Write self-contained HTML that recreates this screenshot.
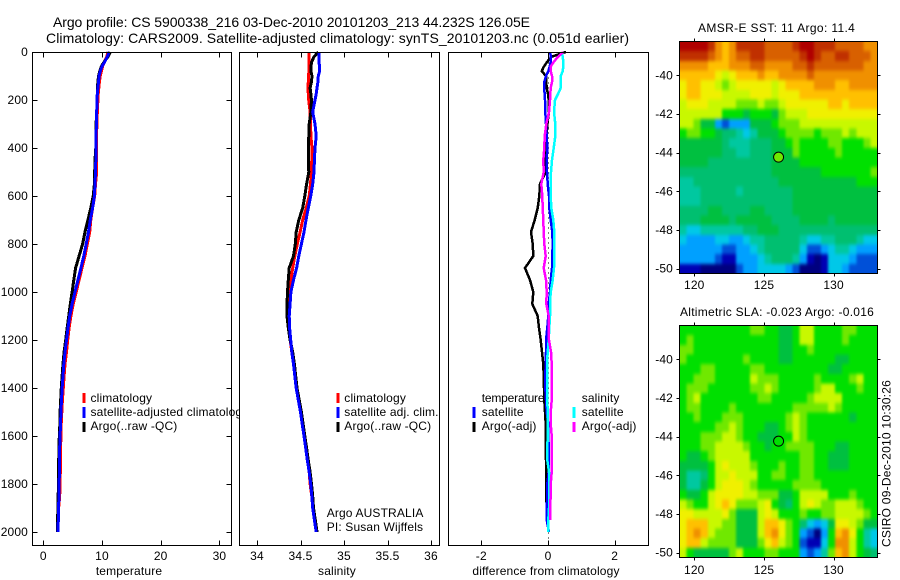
<!DOCTYPE html>
<html lang="en">
<head>
<meta charset="utf-8">
<title>Argo profile chart</title>
<style>
html,body{margin:0;padding:0;background:#fff;width:900px;height:580px;overflow:hidden}
svg{display:block}
text{font-family:"Liberation Sans",Arial,sans-serif;font-size:12px;fill:#000;letter-spacing:.15px}
.frame{fill:none;stroke:#000;stroke-width:1;shape-rendering:crispEdges}
.bg{fill:#fff}
.mk{stroke-width:3;shape-rendering:crispEdges}
</style>
</head>
<body>
<svg id="chart" xmlns="http://www.w3.org/2000/svg" width="900" height="580" viewBox="0 0 900 580">
  <defs>
    <filter id="soften" filterUnits="userSpaceOnUse" x="650" y="20" width="250" height="560" color-interpolation-filters="sRGB">
      <feGaussianBlur stdDeviation="1.4 1.8"/>
    </filter>
    <clipPath id="m1-clip"><rect x="679.5" y="41.5" width="198" height="232"/></clipPath>
    <clipPath id="m2-clip"><rect x="679.5" y="325.5" width="198" height="232"/></clipPath>
  </defs>
  <rect width="900" height="580" fill="#fff"/>
  <text x="53" y="27" style="font-size:14px;letter-spacing:0" textLength="477" lengthAdjust="spacing">Argo profile: CS 5900338_216 03-Dec-2010 20101203_213 44.232S 126.05E</text>
  <text x="46" y="43" style="font-size:14px;letter-spacing:0" textLength="583" lengthAdjust="spacing">Climatology: CARS2009. Satellite-adjusted climatology: synTS_20101203.nc (0.051d earlier)</text>

  <g id="p1">
    <rect class="bg" x="32.5" y="52.5" width="199" height="493"/>
  </g>
  <g>
    <line class="mk" x1="84" x2="84" y1="393" y2="403" stroke="#f00"/>
    <line class="mk" x1="84" x2="84" y1="407" y2="418" stroke="#00f"/>
    <line class="mk" x1="84" x2="84" y1="422" y2="432" stroke="#000"/>
    <text x="90.5" y="402">climatology</text>
    <text x="90.5" y="416">satellite-adjusted climatology</text>
    <text x="90.5" y="430">Argo(..raw -QC)</text>
  </g>
  <text x="129" y="575" text-anchor="middle">temperature</text>

  <g id="p2">
    <rect class="bg" x="239.5" y="52.5" width="200" height="493"/>
  </g>
  <g>
    <line class="mk" x1="338" x2="338" y1="393" y2="403" stroke="#f00"/>
    <line class="mk" x1="338" x2="338" y1="407" y2="418" stroke="#00f"/>
    <line class="mk" x1="338" x2="338" y1="422" y2="432" stroke="#000"/>
    <text x="344.3" y="402">climatology</text>
    <text x="344.3" y="416">satellite adj. clim.</text>
    <text x="344.3" y="430">Argo(..raw -QC)</text>
    <text x="326.7" y="517">Argo AUSTRALIA</text>
    <text x="326.7" y="531">PI: Susan Wijffels</text>
  </g>
  <text x="337" y="575" text-anchor="middle">salinity</text>

  <g id="p3">
    <rect class="bg" x="448.5" y="52.5" width="200" height="493"/>
  </g>
  <g>
    <text x="481.7" y="402" textLength="63" lengthAdjust="spacing">temperature</text>
    <line class="mk" x1="474" x2="474" y1="407" y2="418" stroke="#00f"/>
    <text x="481.7" y="416">satellite</text>
    <line class="mk" x1="474" x2="474" y1="422" y2="432" stroke="#000"/>
    <text x="481.7" y="430">Argo(-adj)</text>
    <text x="581.7" y="402">salinity</text>
    <line class="mk" x1="574" x2="574" y1="407" y2="418" stroke="#0ff"/>
    <text x="581.7" y="416">satellite</text>
    <line class="mk" x1="574" x2="574" y1="422" y2="432" stroke="#f0f"/>
    <text x="581.7" y="430">Argo(-adj)</text>
  </g>
  <text x="546" y="575" text-anchor="middle">difference from climatology</text>

  <g id="m1"></g>
  <text x="698" y="32" textLength="157" lengthAdjust="spacing">AMSR-E SST: 11 Argo: 11.4</text>
  <g id="m2"></g>
  <text x="680" y="316" textLength="194" lengthAdjust="spacing">Altimetric SLA: -0.023 Argo: -0.016</text>
  <text transform="translate(890.5,547) rotate(-90)" textLength="167" lengthAdjust="spacing">CSIRO 09-Dec-2010 10:30:26</text>
</svg>

<script>
const depths = [0,20,40,60,80,100,125,150,175,200,250,300,350,400,450,500,550,600,650,700,750,800,850,900,950,1000,1050,1100,1150,1200,1250,1300,1350,1400,1450,1500,1550,1600,1650,1700,1750,1800,1850,1900,1950,2000];

const tempClim = [11.0,10.8,10.4,10.1,9.9,9.7,9.55,9.45,9.35,9.3,9.2,9.15,9.05,9.05,9.1,9.1,8.9,8.75,8.4,8.1,7.9,7.5,7.1,6.6,6.1,5.6,5.1,4.7,4.4,4.15,3.95,3.7,3.55,3.4,3.25,3.15,3.05,3.0,2.95,2.9,2.9,2.85,2.8,2.6,2.55,2.5];
const tempArgo = [11.4,11.0,10.4,9.9,9.6,9.4,9.3,9.2,9.2,9.15,9.1,9.0,9.0,8.95,8.8,8.75,8.7,8.5,8.1,7.6,7.1,6.7,6.1,5.5,5.2,4.9,4.6,4.35,4.05,3.82,3.55,3.36,3.2,3.07,2.97,2.87,2.82,2.72,2.68,2.63,2.63,2.58,2.53,2.48,2.43,2.42];
const tempSat = [11.2,10.9,10.5,10.0,9.7,9.5,9.4,9.3,9.2,9.15,9.1,9.05,9.0,9.0,8.95,8.9,8.8,8.7,8.4,8.0,7.7,7.3,6.9,6.4,5.9,5.4,4.9,4.5,4.2,3.95,3.7,3.5,3.35,3.2,3.1,3.0,2.95,2.85,2.8,2.75,2.75,2.7,2.65,2.6,2.55,2.5];

const salClim = [34.60,34.60,34.60,34.60,34.595,34.594,34.59,34.586,34.59,34.594,34.61,34.615,34.62,34.632,34.63,34.625,34.615,34.6,34.565,34.525,34.495,34.463,34.435,34.41,34.39,34.37,34.365,34.36,34.365,34.38,34.40,34.42,34.44,34.455,34.475,34.50,34.52,34.54,34.56,34.58,34.6,34.61,34.63,34.64,34.66,34.68];
const salArgo = [34.705,34.655,34.63,34.62,34.62,34.632,34.625,34.61,34.62,34.625,34.62,34.60,34.595,34.59,34.59,34.595,34.57,34.55,34.525,34.48,34.45,34.44,34.42,34.37,34.36,34.35,34.345,34.345,34.36,34.38,34.41,34.43,34.445,34.46,34.485,34.51,34.53,34.55,34.57,34.588,34.61,34.627,34.64,34.65,34.67,34.69];
const salSat = [34.71,34.71,34.71,34.72,34.72,34.705,34.70,34.69,34.68,34.667,34.64,34.667,34.68,34.667,34.66,34.655,34.64,34.617,34.59,34.563,34.54,34.51,34.48,34.455,34.42,34.39,34.38,34.37,34.375,34.387,34.40,34.42,34.435,34.45,34.475,34.50,34.52,34.54,34.56,34.578,34.6,34.617,34.63,34.64,34.66,34.68];

const diffTempArgo = [.54,.1,-.02,-.12,-.19,-.06,-.05,-.04,0,.02,.03,-.02,-.04,-.05,-.07,-.07,-.24,-.26,-.31,-.40,-.51,-.46,-.44,-.69,-.54,-.44,-.47,-.31,-.27,-.22,-.18,-.14,-.13,-.12,-.11,-.09,-.07,-.07,-.07,-.06,-.06,-.05,-.05,-.04,-.04];
const diffTempSat = [.06,.09,.08,.05,.01,-.06,-.11,-.12,-.10,-.09,-.08,-.06,-.04,-.02,-.04,-.03,-.01,.03,.04,.08,.13,.14,.13,.12,.08,.06,.02,.01,-.02,-.06,-.06,-.07,-.08,-.08,-.06,-.04,.01,.01,.02,.03,.02,-.02,-.02,-.04,-.04,.03];
const diffSalSat = [.41,.44,.46,.46,.44,.38,.38,.38,.30,.21,.18,.22,.22,.17,.12,.09,.08,.08,.10,.16,.19,.19,.19,.18,.14,.08,.06,.06,.04,.02,-.01,-.03,-.03,-.03,-.02,-.01,-.01,-.01,-.02,-.02,.03,.03,.03,.03,.01,.01];
const diffSalArgo = [.46,.3,.18,.08,.08,.12,.12,.08,.07,.06,.03,-.05,-.1,-.11,-.14,-.13,-.2,-.17,-.16,-.14,-.13,-.11,-.07,-.13,-.06,-.04,-.05,.02,.02,.03,.09,.11,.11,.11,.11,.08,.08,.11,.11,.11,.11,.08,.08,.06,.06];

const depthTicks = [0,200,400,600,800,1000,1200,1400,1600,1800,2000];
const tempTicks = [0,10,20,30];
const salTicks = [34,34.5,35,35.5,36];
const diffTicks = [-2,0,2];
const lonTicks = [120,125,130];
const latTicks = [-40,-42,-44,-46,-48,-50];
const floatLon = 126.05;
const floatLat = -44.232;

const palette = ['#00007f','#0000b4','#0050d8','#00a0ff','#00c8e8','#00c8a0','#00bf70','#00c040','#00e000','#70e800','#c8f800','#f0f000','#ffc000','#f09000','#d86000','#c03000','#b00000'];

const sstGrid = [
[16,16,16,16,15,13,12,13,15,15,15,15,14,14,14,14,15,16,16,15,15,15,14,14,14,14,13,13],
[15,15,15,15,14,13,12,13,14,14,15,15,14,14,14,14,14,15,16,15,14,14,15,15,14,14,14,13],
[13,13,13,13,12,12,12,13,13,13,14,14,13,13,13,13,14,14,15,14,14,14,14,14,14,14,13,13],
[12,12,12,12,12,11,10,11,12,12,12,13,12,12,13,13,13,13,14,13,13,13,13,13,13,13,13,13],
[11,12,12,11,11,10,9,10,11,11,11,11,11,10,11,12,12,12,12,13,13,13,12,12,13,13,13,13],
[11,12,12,11,11,11,10,10,10,10,11,11,11,10,11,11,11,12,12,12,12,12,12,12,12,12,12,12],
[10,11,11,11,10,10,10,10,9,9,9,10,9,9,10,11,11,11,11,11,11,12,12,11,12,12,12,12],
[10,10,10,10,10,10,8,8,8,7,8,8,8,7,9,10,10,10,11,11,11,11,11,11,11,11,11,11],
[10,10,9,7,7,3,2,3,3,3,7,7,7,8,9,9,9,10,10,10,10,10,10,10,10,10,10,10],
[8,9,9,8,8,7,6,6,5,4,5,7,7,7,8,9,9,9,9,8,9,9,9,10,9,10,10,10],
[7,7,7,7,7,7,6,5,5,5,6,6,6,7,7,8,9,8,8,8,8,9,9,8,8,8,9,10],
[7,7,7,7,7,7,6,6,5,5,6,6,6,7,7,7,9,8,8,8,8,8,9,8,8,8,8,8],
[7,7,7,7,6,6,6,6,6,6,6,6,6,7,7,7,7,8,8,8,8,8,8,8,8,8,8,8],
[6,6,6,6,6,6,6,6,6,6,6,6,6,7,7,7,7,7,7,7,8,8,8,8,8,8,8,9],
[5,5,6,6,6,6,6,6,6,6,6,6,6,6,7,7,7,7,7,7,7,7,7,7,7,8,8,8],
[5,5,5,6,6,6,6,6,5,6,6,6,6,6,6,6,7,7,7,7,7,7,7,7,7,7,7,7],
[5,5,5,6,6,6,6,6,6,6,6,6,6,6,6,6,7,7,7,7,7,7,7,7,7,7,7,7],
[6,6,6,6,7,7,6,6,6,6,7,7,6,6,6,6,7,7,7,7,7,7,7,7,7,7,7,7],
[6,6,6,7,7,7,7,6,7,7,7,7,7,6,6,6,6,7,7,7,7,6,7,7,7,7,7,7],
[5,4,4,5,5,5,5,5,5,6,6,7,7,7,6,6,6,6,6,6,6,6,6,6,6,6,6,6],
[4,3,3,3,3,4,4,3,3,4,5,5,6,6,6,6,6,5,4,4,5,5,6,6,6,5,4,4],
[3,3,3,3,3,3,2,2,3,3,4,5,6,6,6,6,6,4,2,2,3,4,5,5,4,3,3,3],
[3,3,3,3,3,2,1,1,3,3,3,4,5,6,6,6,5,3,1,0,1,4,4,4,3,2,2,2],
[1,1,1,0,0,0,0,0,2,3,3,4,4,4,4,3,2,0,0,0,1,4,4,3,2,2,2,2]
];

const slaGrid = [
[8,8,8,8,8,8,8,8,8,8,9,9,8,8,7,7,8,10,10,8,8,8,8,9,9,8,8,8],
[8,9,8,8,8,8,8,8,8,8,8,8,8,8,7,7,8,10,10,8,8,8,8,9,8,8,8,8],
[9,9,8,8,8,8,8,8,8,8,8,8,8,8,7,7,8,8,9,8,8,8,8,8,8,8,8,8],
[9,8,8,8,8,8,8,8,8,9,8,8,8,8,7,7,8,8,8,8,8,8,7,7,8,8,8,8],
[8,8,8,9,9,8,8,8,8,8,9,9,8,8,8,8,8,8,8,8,8,7,7,8,8,8,8,8],
[8,8,9,9,9,8,8,8,8,8,10,9,9,9,8,8,8,8,8,9,8,8,8,8,9,10,8,8],
[8,9,9,9,8,8,8,8,8,8,9,9,10,9,8,8,8,8,8,9,10,10,8,8,8,9,8,8],
[8,9,10,8,8,8,8,8,8,8,8,9,9,8,8,8,8,8,9,10,10,10,10,8,8,8,8,8],
[8,9,9,8,8,8,8,9,8,8,8,8,8,8,8,8,9,9,9,9,9,10,9,8,8,8,8,8],
[8,8,9,8,8,8,9,9,9,8,8,8,8,8,8,9,10,9,8,8,8,8,8,8,7,8,8,8],
[8,8,8,8,8,9,9,10,9,8,8,8,7,7,8,9,10,9,8,8,8,8,8,8,8,8,8,8],
[8,8,8,9,9,9,10,10,9,8,8,7,7,7,8,8,10,9,8,8,8,8,8,8,8,8,8,8],
[8,8,8,9,9,10,10,10,10,9,8,8,7,8,8,9,9,9,9,8,8,8,7,7,8,8,8,8],
[8,7,7,8,9,10,10,10,10,10,8,8,8,8,8,8,8,9,9,8,8,7,7,7,8,8,8,8],
[7,7,7,7,8,10,11,10,10,10,9,8,8,8,9,8,8,9,9,8,8,7,7,7,8,8,8,8],
[7,5,5,6,8,10,10,11,10,10,10,8,8,9,9,8,8,9,9,8,8,8,8,8,8,8,8,8],
[7,5,5,7,8,10,11,11,11,10,9,8,8,8,8,8,9,9,9,9,8,8,8,8,8,8,8,8],
[8,7,7,8,10,11,11,11,11,10,10,9,9,9,7,7,8,10,10,10,10,8,8,8,9,8,8,8],
[10,9,8,8,10,11,12,11,9,9,9,10,11,8,7,6,8,10,11,10,9,9,10,10,10,9,8,8],
[11,11,10,10,10,10,11,9,7,7,7,10,11,10,8,8,8,9,8,8,9,9,10,10,10,10,9,8],
[11,12,12,12,10,10,9,9,7,7,7,10,12,12,11,9,8,6,4,3,4,7,11,11,10,9,7,7],
[11,12,13,12,10,9,9,9,7,7,7,10,12,13,11,9,8,3,2,0,3,8,12,13,11,8,5,4],
[11,12,12,10,9,9,9,9,7,7,7,9,11,12,10,9,8,2,1,1,4,8,13,13,10,8,5,4],
[10,8,7,7,7,7,7,9,10,8,8,8,9,9,8,8,8,3,2,3,5,9,12,13,10,8,7,6]
];

const NS = 'http://www.w3.org/2000/svg';

function linear(d0, d1, r0, r1) {
  return function (v) { return r0 + (v - d0) * (r1 - r0) / (d1 - d0); };
}
const yDepth = linear(0, 2000, 52, 532);
const xTemp = linear(0, 30, 43.3, 219.4);
const xSal = linear(34, 36, 257, 431);
const xDiff = linear(-2, 2, 481.3, 614.7);

function shape(parent, tag, name) {
  const el = document.createElementNS(NS, tag);
  
  
  parent.appendChild(el);
  return el;
}
function label(parent, name, str, x, y, anchor) {
  const el = shape(parent, 'text', name);
  el.setAttribute('x', x);
  el.setAttribute('y', y);
  el.setAttribute('text-anchor', anchor);
  el.textContent = str;
  return el;
}
function tick(parent, name, x1, y1, x2, y2) {
  const el = shape(parent, 'line', name);
  el.setAttribute('x1', x1);
  el.setAttribute('y1', y1);
  el.setAttribute('x2', x2);
  el.setAttribute('y2', y2);
  el.setAttribute('stroke', '#000');
  el.setAttribute('stroke-width', '1');
  el.setAttribute('shape-rendering', 'crispEdges');
}
function profile(parent, name, values, xf, color, width) {
  const el = shape(parent, 'polyline', name);
  const pts = [];
  for (let i = 0; i < values.length; i++) {
    pts.push(xf(values[i]).toFixed(1) + ',' + yDepth(depths[i]).toFixed(1));
  }
  el.setAttribute('points', pts.join(' '));
  el.setAttribute('fill', 'none');
  el.setAttribute('stroke', color);
  el.setAttribute('stroke-width', width);
  el.setAttribute('shape-rendering', 'crispEdges');
}
function frame(parent, name, x, y, w, h) {
  const el = shape(parent, 'rect', name);
  el.setAttribute('class', 'frame');
  el.setAttribute('x', x);
  el.setAttribute('y', y);
  el.setAttribute('width', w);
  el.setAttribute('height', h);
}
function xAxis(parent, ticks, xf) {
  ticks.forEach(function (t) {
    const x = Math.round(xf(t)) + 0.5;
    tick(parent, 'x-tick-top', x, 52.5, x, 57.5);
    tick(parent, 'x-tick-bottom', x, 545.5, x, 540.5);
    label(parent, 'x-tick-label', String(t), xf(t), 560, 'middle');
  });
}

const p1 = document.getElementById('p1');
const p2 = document.getElementById('p2');
const p3 = document.getElementById('p3');

profile(p1, 'temperature-climatology-line', tempClim, xTemp, '#f00', 3);
profile(p1, 'temperature-argo-line', tempArgo, xTemp, '#000', 3);
profile(p1, 'temperature-satellite-line', tempSat, xTemp, '#00f', 3);
frame(p1, 'temperature-panel-frame', 32.5, 52.5, 199, 493);
xAxis(p1, tempTicks, xTemp);
depthTicks.forEach(function (d) {
  const y = Math.round(yDepth(d)) + 0.5;
  tick(p1, 'depth-tick-left', 32.5, y, 37.5, y);
  tick(p1, 'depth-tick-right', 231.5, y, 226.5, y);
  label(p1, 'depth-tick-label', String(d), 28, yDepth(d) + 4, 'end');
});

profile(p2, 'salinity-climatology-line', salClim, xSal, '#f00', 3);
profile(p2, 'salinity-argo-line', salArgo, xSal, '#000', 3);
profile(p2, 'salinity-satellite-line', salSat, xSal, '#00f', 3);
frame(p2, 'salinity-panel-frame', 239.5, 52.5, 200, 493);
xAxis(p2, salTicks, xSal);

const zero = shape(p3, 'line', 'zero-reference-line');
zero.setAttribute('x1', Math.round(xDiff(0)) + 0.5);
zero.setAttribute('x2', Math.round(xDiff(0)) + 0.5);
zero.setAttribute('y1', 52.5);
zero.setAttribute('y2', 545.5);
zero.setAttribute('stroke', '#000');
zero.setAttribute('stroke-dasharray', '1 4');
zero.setAttribute('shape-rendering', 'crispEdges');
profile(p3, 'difference-temp-argo-line', diffTempArgo, xDiff, '#000', 2.5);
profile(p3, 'difference-temp-satellite-line', diffTempSat, xDiff, '#00f', 2.5);
profile(p3, 'difference-sal-satellite-line', diffSalSat, xDiff, '#0ff', 2.5);
profile(p3, 'difference-sal-argo-line', diffSalArgo, xDiff, '#f0f', 2.5);
frame(p3, 'difference-panel-frame', 448.5, 52.5, 200, 493);
xAxis(p3, diffTicks, xDiff);

function drawMap(groupId, grid, cellName, top, bottom, labelY, floatIdx) {
  const g = document.getElementById(groupId);
  const left = 679.5, right = 877.5;
  const bleed = 10;
  const xLon = linear(118.94, 133.15, left, right);
  const yLat = linear(-38.25, -50.25, top, bottom);
  const rows = grid.length;
  const clipLayer = shape(g, 'g', groupId + '-clip-layer');
  clipLayer.setAttribute('clip-path', 'url(#' + groupId + '-clip)');
  const cellLayer = shape(clipLayer, 'g', groupId + '-cells');
  cellLayer.setAttribute('filter', 'url(#soften)');
  grid.forEach(function (row, r) {
    const cols = row.length;
    row.forEach(function (v, c) {
      const cell = shape(cellLayer, 'rect', cellName);
      let xa = xLon(118.94 + c * (133.15 - 118.94) / cols);
      let xb = xLon(118.94 + (c + 1) * (133.15 - 118.94) / cols);
      let ya = yLat(-38.25 - r * 12 / rows);
      let yb = yLat(-38.25 - (r + 1) * 12 / rows);
      if (c === 0) xa -= bleed;
      if (c === cols - 1) xb += bleed;
      if (r === 0) ya -= bleed;
      if (r === rows - 1) yb += bleed;
      cell.setAttribute('x', xa.toFixed(2));
      cell.setAttribute('y', ya.toFixed(2));
      cell.setAttribute('width', (xb - xa).toFixed(2));
      cell.setAttribute('height', (yb - ya).toFixed(2));
      cell.setAttribute('fill', palette[v]);
      cell.setAttribute('shape-rendering', 'crispEdges');
    });
  });
  frame(g, groupId + '-frame', left, top, right - left, bottom - top);
  lonTicks.forEach(function (t) {
    const x = Math.round(xLon(t)) + 0.5;
    tick(g, 'lon-tick-top', x, top, x, top - 3);
    tick(g, 'lon-tick-bottom', x, bottom, x, bottom + 3);
    label(g, 'lon-tick-label', String(t), xLon(t), labelY, 'middle');
  });
  latTicks.forEach(function (t) {
    const y = Math.round(yLat(t)) + 0.5;
    tick(g, 'lat-tick-left', left, y, left - 3, y);
    tick(g, 'lat-tick-right', right, y, right + 3, y);
    label(g, 'lat-tick-label', String(t), 673, yLat(t) + 4, 'end');
  });
  const dot = shape(g, 'circle', 'float-location-marker');
  dot.setAttribute('cx', xLon(floatLon));
  dot.setAttribute('cy', yLat(floatLat));
  dot.setAttribute('r', 5);
  dot.setAttribute('fill', palette[floatIdx]);
  dot.setAttribute('stroke', '#000');
  dot.setAttribute('stroke-width', 1);
}
drawMap('m1', sstGrid, 'sst-cell', 41.5, 273.5, 289, 9);
drawMap('m2', slaGrid, 'sla-cell', 325.5, 557.5, 574, 8);
</script>
</body>
</html>
